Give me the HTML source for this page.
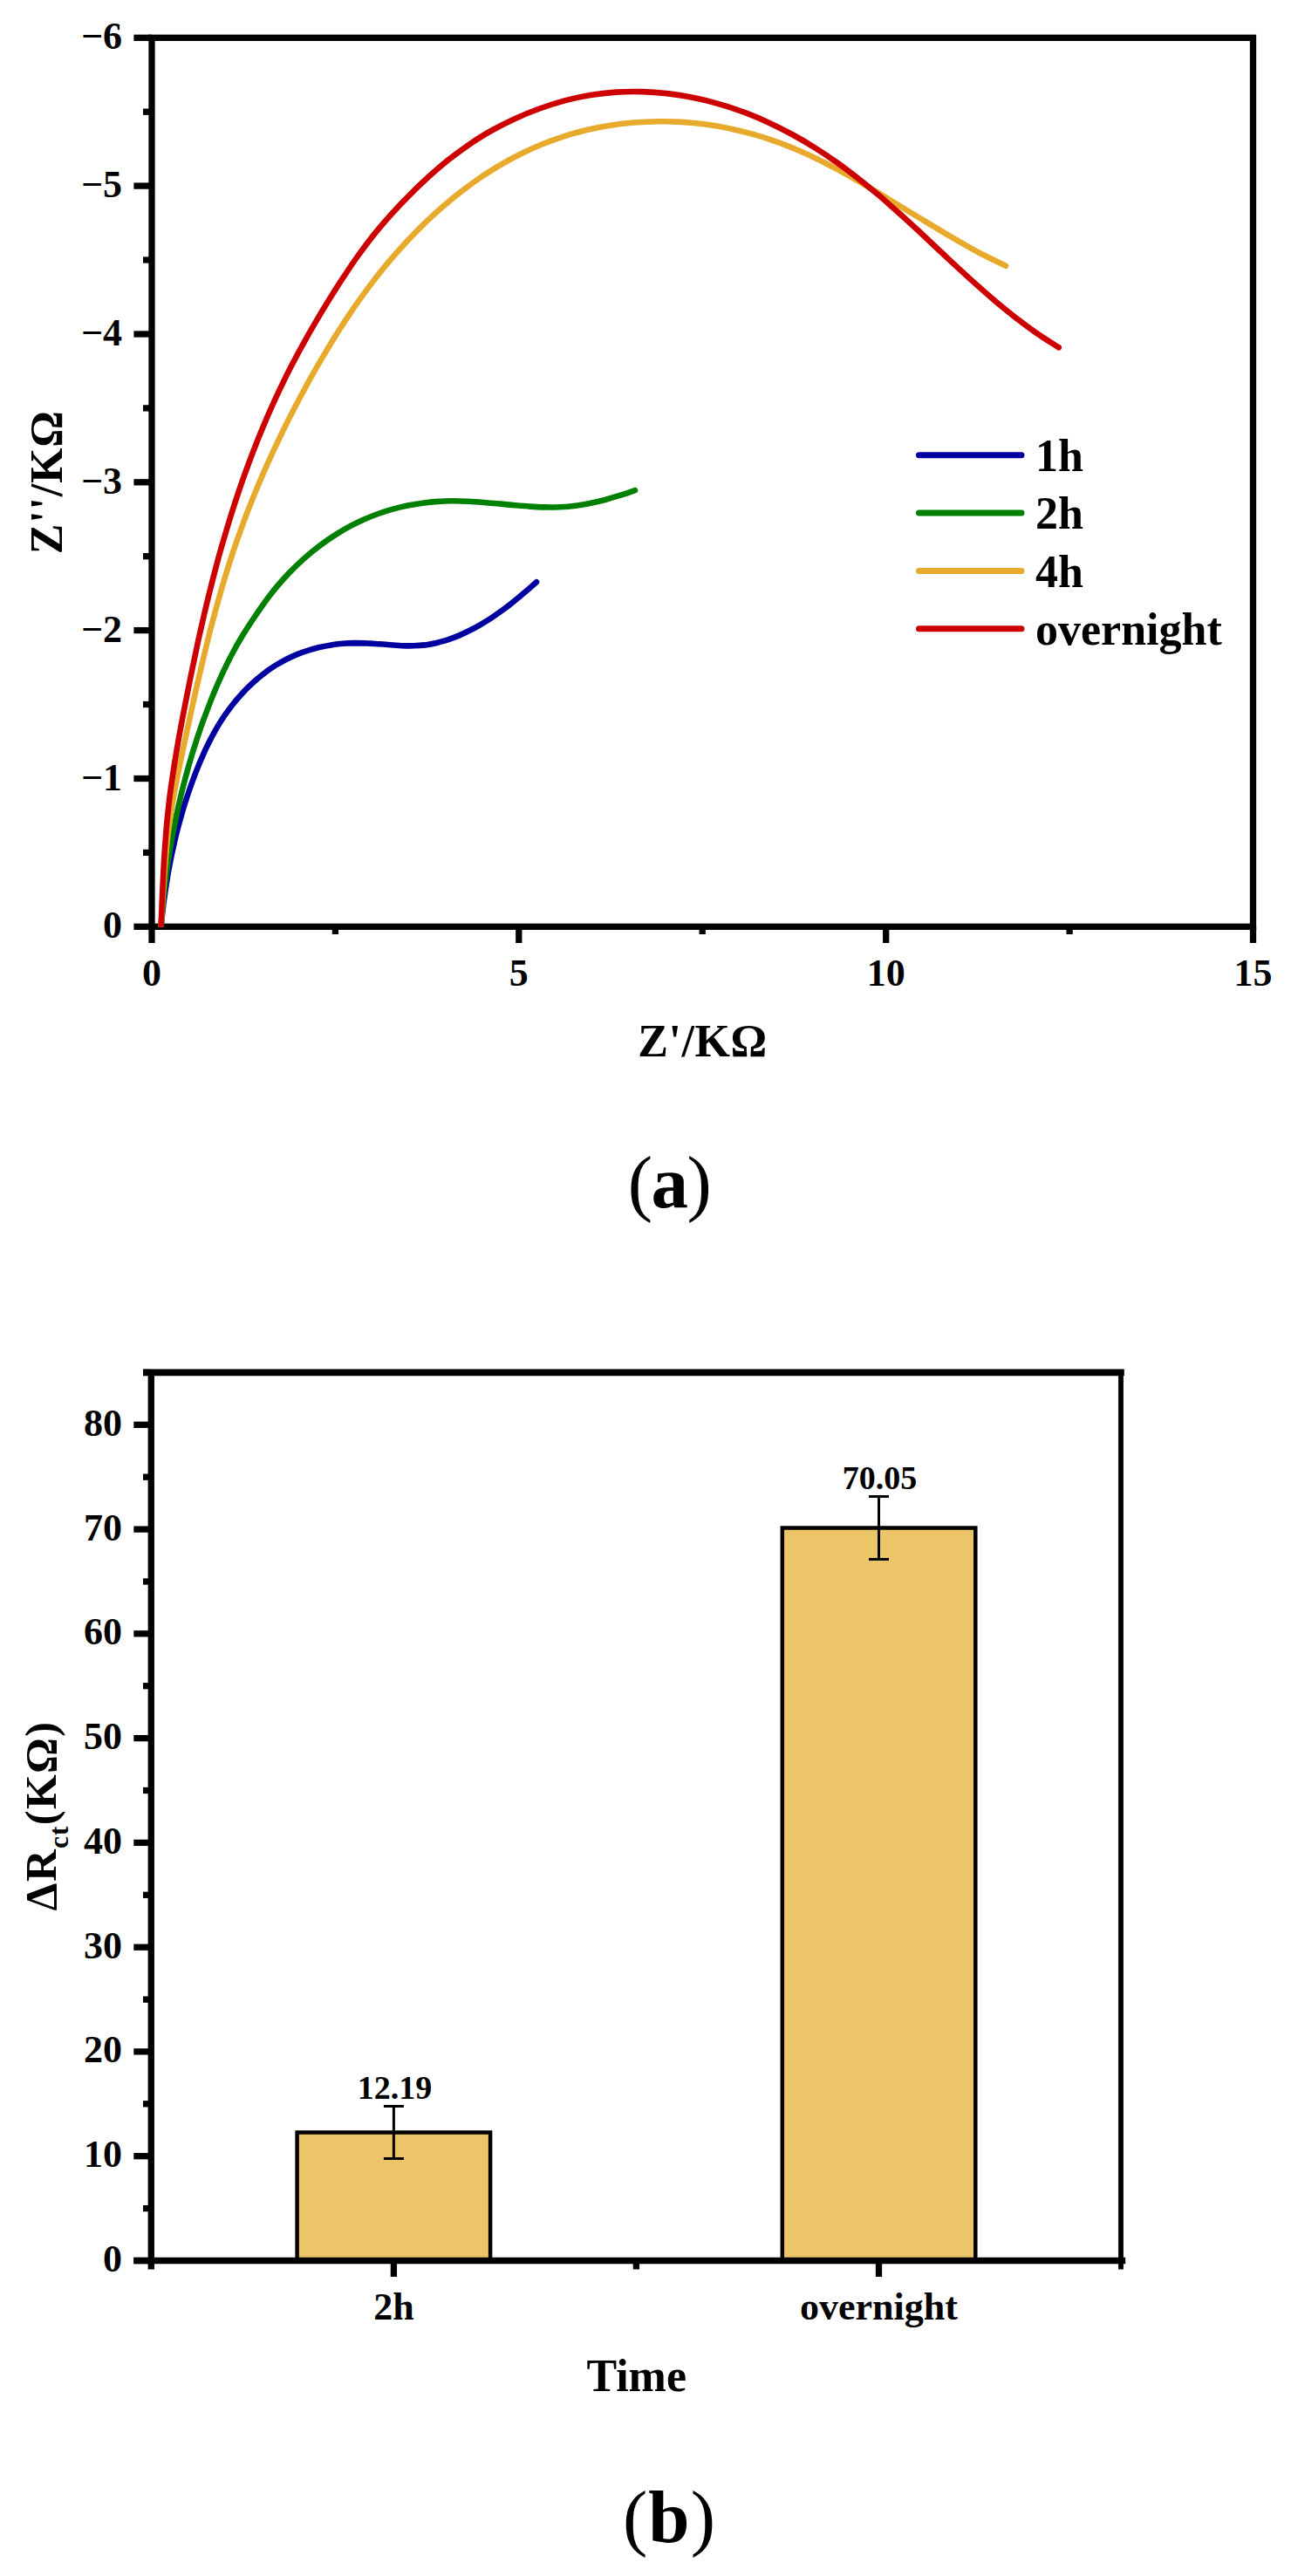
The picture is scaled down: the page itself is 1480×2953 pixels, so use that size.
<!DOCTYPE html>
<html lang="en"><head><meta charset="utf-8"><title>Figure</title>
<style>html,body{margin:0;padding:0;background:#fff}svg{display:block}text{font-family:"Liberation Serif","DejaVu Serif",serif;fill:#000}.b{font-weight:bold}</style>
</head><body>
<svg width="1480" height="2953" viewBox="0 0 1480 2953">
<rect width="1480" height="2953" fill="#fff"/>
<g id="chartA">
<g stroke="#000" stroke-width="7.3" fill="none" stroke-linecap="butt">
<rect x="174.0" y="43.3" width="1262.5" height="1019.0"/>
<line x1="153.4" y1="1062.3" x2="174.0" y2="1062.3"/>
<line x1="164.0" y1="977.4" x2="174.0" y2="977.4"/>
<line x1="153.4" y1="892.5" x2="174.0" y2="892.5"/>
<line x1="164.0" y1="807.5" x2="174.0" y2="807.5"/>
<line x1="153.4" y1="722.6" x2="174.0" y2="722.6"/>
<line x1="164.0" y1="637.7" x2="174.0" y2="637.7"/>
<line x1="153.4" y1="552.8" x2="174.0" y2="552.8"/>
<line x1="164.0" y1="467.9" x2="174.0" y2="467.9"/>
<line x1="153.4" y1="383.0" x2="174.0" y2="383.0"/>
<line x1="164.0" y1="298.0" x2="174.0" y2="298.0"/>
<line x1="153.4" y1="213.1" x2="174.0" y2="213.1"/>
<line x1="164.0" y1="128.2" x2="174.0" y2="128.2"/>
<line x1="153.4" y1="43.3" x2="174.0" y2="43.3"/>
<line x1="174.0" y1="1062.3" x2="174.0" y2="1081.0"/>
<line x1="384.4" y1="1062.3" x2="384.4" y2="1071.0"/>
<line x1="594.8" y1="1062.3" x2="594.8" y2="1081.0"/>
<line x1="805.2" y1="1062.3" x2="805.2" y2="1071.0"/>
<line x1="1015.7" y1="1062.3" x2="1015.7" y2="1081.0"/>
<line x1="1226.1" y1="1062.3" x2="1226.1" y2="1071.0"/>
<line x1="1436.5" y1="1062.3" x2="1436.5" y2="1081.0"/>
</g>
<clipPath id="clipA"><rect x="174.0" y="43.3" width="1262.5" height="1019.5"/></clipPath>
<g clip-path="url(#clipA)">
<path d="M184.6 1062.0 C184.8 1059.8 185.5 1053.1 186.0 1048.6 C186.5 1044.1 187.0 1039.6 187.6 1035.2 C188.2 1030.7 188.8 1026.2 189.4 1021.8 C190.1 1017.3 190.8 1012.8 191.5 1008.4 C192.2 1003.9 193.0 999.5 193.8 995.0 C194.7 990.6 195.5 986.2 196.4 981.7 C197.3 977.3 198.3 972.9 199.3 968.5 C200.3 964.1 201.3 959.7 202.4 955.3 C203.5 950.9 204.6 946.6 205.8 942.2 C207.0 937.9 208.2 933.5 209.5 929.2 C210.8 924.9 212.1 920.6 213.5 916.3 C214.9 912.0 216.3 907.7 217.8 903.5 C219.3 899.2 220.8 895.0 222.4 890.8 C224.0 886.5 225.6 882.4 227.3 878.2 C229.0 874.0 230.8 869.9 232.6 865.8 C234.4 861.6 236.3 857.6 238.3 853.5 C240.3 849.5 242.3 845.5 244.5 841.6 C246.6 837.6 248.9 833.7 251.2 829.9 C253.6 826.1 256.0 822.3 258.6 818.6 C261.2 814.9 263.9 811.2 266.7 807.7 C269.5 804.1 272.4 800.6 275.5 797.2 C278.5 793.9 281.6 790.6 284.9 787.4 C288.1 784.2 291.5 781.2 294.9 778.2 C298.4 775.3 301.9 772.5 305.5 769.8 C309.2 767.2 312.9 764.6 316.7 762.3 C320.6 759.9 324.5 757.7 328.4 755.7 C332.4 753.7 336.5 751.8 340.6 750.1 C344.8 748.4 349.0 746.9 353.3 745.6 C357.5 744.2 361.9 743.0 366.2 742.0 C370.6 741.0 375.0 740.1 379.5 739.4 C383.9 738.8 388.4 738.2 392.9 737.8 C397.4 737.4 402.0 737.2 406.5 737.1 C411.0 737.1 415.6 737.2 420.1 737.4 C424.6 737.5 429.2 737.9 433.7 738.2 C438.3 738.6 442.8 739.0 447.3 739.3 C451.8 739.7 456.3 740.0 460.8 740.2 C465.3 740.4 469.8 740.5 474.2 740.3 C478.6 740.2 483.1 739.9 487.5 739.4 C491.9 738.8 496.2 738.0 500.5 737.0 C504.9 736.0 509.2 734.7 513.4 733.3 C517.7 731.9 521.9 730.3 526.0 728.6 C530.2 726.8 534.3 724.9 538.4 722.8 C542.4 720.8 546.4 718.6 550.4 716.3 C554.3 714.0 558.2 711.6 562.0 709.2 C565.8 706.7 569.6 704.1 573.3 701.4 C577.0 698.8 580.6 696.1 584.2 693.3 C587.8 690.5 591.3 687.7 594.8 684.8 C598.3 681.9 601.7 679.0 605.1 676.1 C608.4 673.1 613.3 668.7 615.0 667.2" fill="none" stroke="#0000a0" stroke-width="6.6" stroke-linecap="round" stroke-linejoin="round"/>
<path d="M184.6 1062.0 C184.8 1059.1 185.5 1050.3 186.0 1044.5 C186.5 1038.7 187.1 1032.9 187.7 1027.0 C188.3 1021.2 189.0 1015.4 189.7 1009.6 C190.5 1003.8 191.3 997.9 192.1 992.1 C192.9 986.3 193.8 980.5 194.8 974.8 C195.7 969.0 196.8 963.2 197.8 957.4 C198.9 951.7 200.0 945.9 201.2 940.2 C202.3 934.4 203.6 928.7 204.9 922.9 C206.2 917.2 207.5 911.5 208.9 905.8 C210.3 900.1 211.8 894.5 213.3 888.8 C214.9 883.1 216.4 877.5 218.1 871.9 C219.7 866.2 221.4 860.6 223.2 855.0 C225.0 849.5 226.8 843.9 228.7 838.4 C230.6 832.8 232.5 827.3 234.6 821.8 C236.6 816.3 238.6 810.8 240.8 805.4 C242.9 799.9 245.1 794.5 247.4 789.1 C249.7 783.7 252.1 778.4 254.5 773.1 C257.0 767.7 259.5 762.5 262.2 757.3 C264.8 752.0 267.6 746.9 270.4 741.7 C273.3 736.6 276.2 731.6 279.3 726.5 C282.4 721.5 285.6 716.6 288.8 711.7 C292.1 706.8 295.4 702.0 298.7 697.2 C302.1 692.4 305.4 687.6 309.0 683.0 C312.5 678.4 316.1 673.9 319.9 669.5 C323.7 665.1 327.6 660.8 331.6 656.6 C335.6 652.4 339.8 648.3 344.1 644.3 C348.4 640.3 352.9 636.5 357.4 632.7 C362.0 629.0 366.7 625.4 371.4 622.0 C376.2 618.5 381.1 615.2 386.1 612.1 C391.1 609.0 396.2 606.0 401.4 603.2 C406.6 600.5 411.9 597.9 417.2 595.5 C422.6 593.2 428.0 591.0 433.5 589.0 C439.0 587.1 444.6 585.3 450.2 583.7 C455.8 582.2 461.5 580.8 467.2 579.6 C472.9 578.4 478.7 577.5 484.5 576.7 C490.3 575.9 496.1 575.3 501.9 574.9 C507.8 574.5 513.6 574.3 519.5 574.3 C525.3 574.3 531.2 574.5 537.1 574.8 C542.9 575.0 548.8 575.5 554.7 576.0 C560.5 576.4 566.4 577.0 572.3 577.5 C578.2 578.1 584.0 578.7 589.9 579.2 C595.8 579.7 601.6 580.2 607.5 580.6 C613.3 580.9 619.2 581.3 625.0 581.4 C630.9 581.5 636.7 581.4 642.5 581.2 C648.3 580.9 654.1 580.4 659.9 579.7 C665.7 579.0 671.5 578.0 677.3 576.8 C683.0 575.6 688.7 574.2 694.4 572.7 C700.1 571.1 705.8 569.4 711.4 567.7 C717.0 565.9 725.2 563.1 728.0 562.2" fill="none" stroke="#008000" stroke-width="6.6" stroke-linecap="round" stroke-linejoin="round"/>
<path d="M184.6 1062.0 C184.9 1057.5 185.8 1043.9 186.3 1034.7 C186.9 1025.6 187.4 1016.5 188.1 1007.4 C188.7 998.2 189.3 989.1 190.2 980.0 C191.0 970.8 191.9 961.7 193.0 952.7 C194.2 943.6 195.5 934.6 196.9 925.6 C198.4 916.6 200.0 907.7 201.7 898.7 C203.4 889.8 205.2 880.8 207.1 871.9 C208.9 863.0 210.9 854.1 212.8 845.1 C214.7 836.2 216.6 827.3 218.6 818.4 C220.6 809.5 222.5 800.5 224.5 791.6 C226.6 782.7 228.6 773.8 230.7 764.9 C232.8 756.0 234.9 747.1 237.1 738.2 C239.3 729.4 241.5 720.5 243.9 711.7 C246.2 702.8 248.6 694.0 251.1 685.3 C253.5 676.5 256.1 667.7 258.8 659.0 C261.4 650.3 264.2 641.6 267.1 632.9 C270.0 624.3 273.0 615.7 276.1 607.1 C279.2 598.5 282.4 590.0 285.7 581.5 C289.0 573.0 292.5 564.6 296.0 556.2 C299.6 547.8 303.2 539.4 306.9 531.1 C310.7 522.7 314.5 514.5 318.5 506.2 C322.4 498.0 326.4 489.8 330.5 481.6 C334.6 473.4 338.8 465.3 343.1 457.3 C347.4 449.2 351.8 441.1 356.2 433.2 C360.7 425.2 365.2 417.2 369.9 409.4 C374.5 401.5 379.2 393.6 384.0 385.9 C388.9 378.2 393.8 370.5 398.9 362.9 C404.0 355.3 409.1 347.8 414.5 340.4 C419.8 333.0 425.2 325.7 430.8 318.5 C436.4 311.4 442.1 304.3 448.0 297.4 C453.9 290.4 460.0 283.6 466.2 276.9 C472.4 270.2 478.8 263.7 485.3 257.3 C491.9 250.9 498.6 244.7 505.5 238.7 C512.4 232.6 519.5 226.8 526.7 221.2 C533.9 215.5 541.3 210.1 548.8 204.9 C556.4 199.8 564.1 194.8 571.9 190.2 C579.7 185.5 587.7 181.1 595.8 177.0 C604.0 172.9 612.2 169.1 620.6 165.7 C629.0 162.2 637.6 159.1 646.3 156.3 C654.9 153.5 663.7 151.1 672.6 149.0 C681.5 146.9 690.4 145.1 699.5 143.7 C708.5 142.3 717.6 141.2 726.7 140.5 C735.8 139.7 745.0 139.3 754.2 139.2 C763.3 139.1 772.5 139.4 781.6 139.9 C790.7 140.5 799.9 141.4 808.9 142.6 C818.0 143.8 827.0 145.3 835.9 147.2 C844.8 149.0 853.7 151.2 862.4 153.7 C871.2 156.1 879.9 158.9 888.4 161.9 C897.0 164.9 905.5 168.3 913.9 171.8 C922.3 175.4 930.6 179.2 938.8 183.3 C947.0 187.3 955.0 191.6 963.1 195.9 C971.1 200.3 979.1 204.9 987.0 209.5 C994.9 214.1 1002.7 218.8 1010.6 223.4 C1018.4 228.1 1026.2 232.9 1034.0 237.6 C1041.8 242.3 1049.6 247.1 1057.4 251.8 C1065.2 256.5 1073.0 261.2 1080.8 265.8 C1088.6 270.5 1096.5 275.1 1104.4 279.6 C1112.4 284.1 1120.3 288.6 1128.5 292.8 C1136.6 297.0 1149.0 302.8 1153.1 304.8" fill="none" stroke="#e8aa2c" stroke-width="6.6" stroke-linecap="round" stroke-linejoin="round"/>
<path d="M184.6 1062.0 C184.8 1057.0 185.4 1042.0 185.8 1031.9 C186.2 1021.9 186.7 1011.9 187.2 1001.8 C187.7 991.8 188.3 981.8 189.0 971.7 C189.7 961.7 190.5 951.7 191.4 941.7 C192.4 931.7 193.5 921.7 194.7 911.8 C196.0 901.8 197.4 891.9 199.0 882.0 C200.5 872.1 202.2 862.2 203.9 852.3 C205.6 842.4 207.5 832.5 209.3 822.7 C211.2 812.8 213.1 802.9 215.1 793.1 C217.0 783.2 219.0 773.4 221.1 763.6 C223.1 753.7 225.2 743.9 227.3 734.1 C229.5 724.3 231.7 714.5 234.0 704.7 C236.3 694.9 238.6 685.2 241.1 675.4 C243.5 665.7 246.0 656.0 248.6 646.3 C251.2 636.6 253.9 626.9 256.8 617.3 C259.6 607.7 262.5 598.0 265.5 588.5 C268.5 578.9 271.6 569.3 274.9 559.8 C278.1 550.3 281.5 540.9 285.0 531.5 C288.5 522.1 292.1 512.7 295.8 503.4 C299.6 494.1 303.4 484.8 307.4 475.6 C311.5 466.4 315.6 457.2 319.9 448.2 C324.2 439.1 328.6 430.1 333.2 421.1 C337.8 412.2 342.5 403.3 347.4 394.6 C352.2 385.8 357.2 377.0 362.3 368.4 C367.4 359.7 372.6 351.1 377.9 342.6 C383.2 334.1 388.5 325.6 394.1 317.2 C399.6 308.9 405.1 300.5 411.0 292.4 C416.8 284.3 422.9 276.2 429.1 268.4 C435.4 260.6 442.0 253.0 448.7 245.5 C455.4 238.0 462.4 230.7 469.5 223.6 C476.5 216.4 483.8 209.4 491.2 202.7 C498.7 196.0 506.3 189.4 514.1 183.2 C521.9 177.0 530.0 171.0 538.2 165.4 C546.5 159.8 555.0 154.4 563.8 149.5 C572.5 144.6 581.5 140.1 590.6 135.9 C599.8 131.7 609.2 127.9 618.6 124.5 C628.1 121.1 637.7 118.0 647.4 115.4 C657.2 112.9 667.0 110.7 676.9 109.1 C686.7 107.4 696.7 106.3 706.7 105.6 C716.7 104.9 726.7 104.8 736.7 105.1 C746.7 105.4 756.7 106.2 766.6 107.4 C776.6 108.6 786.5 110.2 796.4 112.3 C806.2 114.3 816.0 116.8 825.6 119.6 C835.3 122.4 844.9 125.7 854.3 129.2 C863.7 132.8 873.0 136.7 882.1 140.9 C891.2 145.1 900.2 149.7 908.9 154.5 C917.7 159.3 926.4 164.4 934.8 169.7 C943.3 175.1 951.6 180.7 959.8 186.5 C967.9 192.3 975.9 198.4 983.8 204.6 C991.7 210.7 999.4 217.1 1007.1 223.6 C1014.8 230.1 1022.3 236.8 1029.8 243.5 C1037.3 250.2 1044.7 257.0 1052.1 263.8 C1059.5 270.7 1066.8 277.6 1074.1 284.5 C1081.5 291.3 1088.8 298.3 1096.2 305.1 C1103.5 311.9 1110.9 318.7 1118.4 325.4 C1125.8 332.1 1133.4 338.7 1141.0 345.2 C1148.7 351.6 1156.4 358.0 1164.3 364.1 C1172.2 370.2 1180.3 376.2 1188.5 382.0 C1196.7 387.7 1209.6 395.7 1213.8 398.4" fill="none" stroke="#cc0000" stroke-width="6.6" stroke-linecap="round" stroke-linejoin="round"/>
</g>
<g class="b" font-size="44">
<text x="140" y="1075.3" text-anchor="end">0</text>
<text x="140" y="905.5" text-anchor="end">−1</text>
<text x="140" y="735.6" text-anchor="end">−2</text>
<text x="140" y="565.8" text-anchor="end">−3</text>
<text x="140" y="396.0" text-anchor="end">−4</text>
<text x="140" y="226.1" text-anchor="end">−5</text>
<text x="140" y="56.3" text-anchor="end">−6</text>
<text x="174.0" y="1129.5" text-anchor="middle">0</text>
<text x="594.8" y="1129.5" text-anchor="middle">5</text>
<text x="1015.7" y="1129.5" text-anchor="middle">10</text>
<text x="1436.5" y="1129.5" text-anchor="middle">15</text>
</g>
<text class="b" font-size="52" letter-spacing="0.8" text-anchor="middle" transform="translate(71.3 552.7) rotate(-90)">Z''/KΩ</text>
<text class="b" font-size="52" letter-spacing="0.6" text-anchor="middle" x="805.5" y="1211.2">Z'/KΩ</text>
<line x1="1053.5" y1="521.8" x2="1171" y2="521.8" stroke="#0000a0" stroke-width="7" stroke-linecap="round"/>
<text class="b" font-size="52" x="1187" y="540.2">1h</text>
<line x1="1053.5" y1="588.1" x2="1171" y2="588.1" stroke="#008000" stroke-width="7" stroke-linecap="round"/>
<text class="b" font-size="52" x="1187" y="606.4">2h</text>
<line x1="1053.5" y1="654.4" x2="1171" y2="654.4" stroke="#e8aa2c" stroke-width="7" stroke-linecap="round"/>
<text class="b" font-size="52" x="1187" y="672.6">4h</text>
<line x1="1053.5" y1="720.7" x2="1171" y2="720.7" stroke="#cc0000" stroke-width="7" stroke-linecap="round"/>
<text class="b" font-size="52" x="1187" y="738.8">overnight</text>
</g>
<text font-size="85" letter-spacing="-1.5" text-anchor="middle" x="767" y="1384.3">(<tspan class="b">a</tspan>)</text>
<g id="chartB">
<rect x="340.6" y="2444.5" width="221.5" height="147.0" fill="#ebc567" stroke="#000" stroke-width="4.5"/>
<path d="M451.4 2414.5 V2474.4 M439.9 2414.5 H462.9 M439.9 2474.4 H462.9" stroke="#000" stroke-width="3" fill="none"/>
<text class="b" font-size="38" text-anchor="middle" x="452.4" y="2406.0">12.19</text>
<rect x="896.8" y="1751.5" width="221.5" height="840.0" fill="#ebc567" stroke="#000" stroke-width="4.5"/>
<path d="M1007.5 1715.5 V1787.4 M996.0 1715.5 H1019.0 M996.0 1787.4 H1019.0" stroke="#000" stroke-width="3" fill="none"/>
<text class="b" font-size="38" text-anchor="middle" x="1008.5" y="1707.0">70.05</text>
<g stroke="#000" stroke-width="7.3" fill="none">
<path d="M173.3 1569.9V2601.5 M153.3 2591.5H1290.2"/>
<path d="M164 1573.4H1288.8" stroke-width="7.8"/>
<path d="M1285.0 1569.9V2601.5" stroke-width="5.8"/>
<line x1="153.3" y1="2591.5" x2="173.3" y2="2591.5"/>
<line x1="164" y1="2531.6" x2="173.3" y2="2531.6"/>
<line x1="153.3" y1="2471.7" x2="173.3" y2="2471.7"/>
<line x1="164" y1="2411.8" x2="173.3" y2="2411.8"/>
<line x1="153.3" y1="2351.9" x2="173.3" y2="2351.9"/>
<line x1="164" y1="2292.1" x2="173.3" y2="2292.1"/>
<line x1="153.3" y1="2232.2" x2="173.3" y2="2232.2"/>
<line x1="164" y1="2172.3" x2="173.3" y2="2172.3"/>
<line x1="153.3" y1="2112.4" x2="173.3" y2="2112.4"/>
<line x1="164" y1="2052.5" x2="173.3" y2="2052.5"/>
<line x1="153.3" y1="1992.6" x2="173.3" y2="1992.6"/>
<line x1="164" y1="1932.7" x2="173.3" y2="1932.7"/>
<line x1="153.3" y1="1872.8" x2="173.3" y2="1872.8"/>
<line x1="164" y1="1813.0" x2="173.3" y2="1813.0"/>
<line x1="153.3" y1="1753.1" x2="173.3" y2="1753.1"/>
<line x1="164" y1="1693.2" x2="173.3" y2="1693.2"/>
<line x1="153.3" y1="1633.3" x2="173.3" y2="1633.3"/>
<line x1="164" y1="1573.4" x2="173.3" y2="1573.4"/>
<line x1="451.4" y1="2591.5" x2="451.4" y2="2610.0"/>
<line x1="729.4" y1="2591.5" x2="729.4" y2="2601.5"/>
<line x1="1007.5" y1="2591.5" x2="1007.5" y2="2610.0"/>
</g>
<g class="b" font-size="44">
<text x="140" y="2604.0" text-anchor="end">0</text>
<text x="140" y="2484.2" text-anchor="end">10</text>
<text x="140" y="2364.4" text-anchor="end">20</text>
<text x="140" y="2244.7" text-anchor="end">30</text>
<text x="140" y="2124.9" text-anchor="end">40</text>
<text x="140" y="2005.1" text-anchor="end">50</text>
<text x="140" y="1885.3" text-anchor="end">60</text>
<text x="140" y="1765.6" text-anchor="end">70</text>
<text x="140" y="1645.8" text-anchor="end">80</text>
<text x="451.4" y="2658.5" text-anchor="middle">2h</text>
<text x="1007.5" y="2658.5" text-anchor="middle">overnight</text>
</g>
<text class="b" font-size="51" letter-spacing="1.3" text-anchor="middle" transform="translate(64.3 2081.5) rotate(-90)">ΔR<tspan font-size="31" dy="14">ct</tspan><tspan dy="-14">(KΩ)</tspan></text>
<text class="b" font-size="52" text-anchor="middle" x="729.7" y="2741.3">Time</text>
</g>
<text font-size="85" letter-spacing="1" text-anchor="middle" x="767.5" y="2913.5">(<tspan class="b">b</tspan>)</text>
</svg></body></html>
